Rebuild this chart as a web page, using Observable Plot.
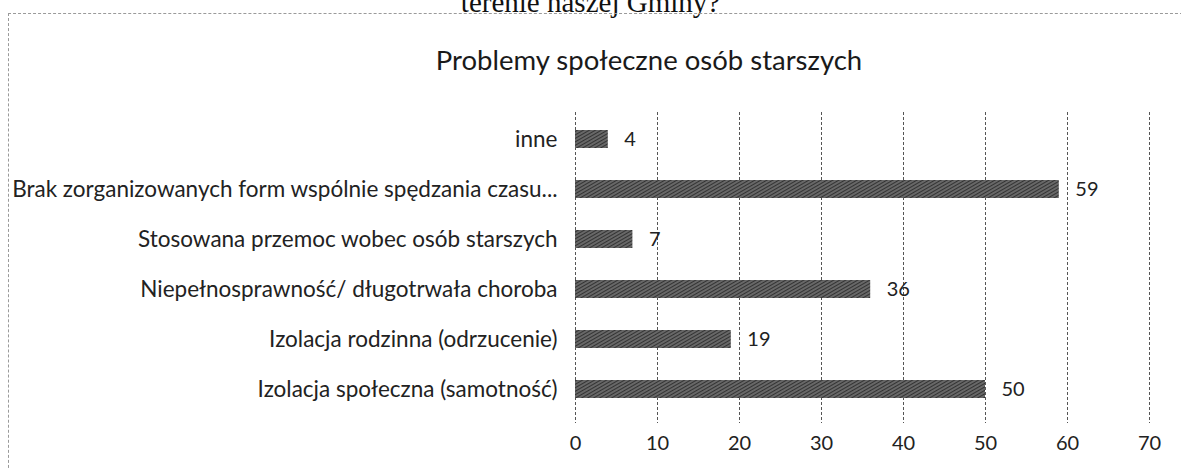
<!DOCTYPE html>
<html>
<head>
<meta charset="utf-8">
<script src="https://cdn.jsdelivr.net/npm/d3@7"></script>
<script src="https://cdn.jsdelivr.net/npm/@observablehq/plot@0.6"></script>
<style>
  html, body { margin: 0; padding: 0; background: #fff; width: 1181px; height: 468px; overflow: hidden; }
  #wrap { position: relative; width: 1181px; height: 468px; }
  #cut { position: absolute; left: 0; width: 1181px; top: -14px; text-align: center; font-family: "Liberation Serif", serif; font-size: 29px; color: #111; }
  #frame { position: absolute; left: 8px; top: 13px; width: 1180px; height: 470px; border-left: 1px dashed #9a9a9a; border-top: 1px dashed #9a9a9a; box-sizing: border-box; }
  #title { position: absolute; left: 649px; transform: translateX(-50%); white-space: nowrap; top: 43px; font-family: Lato, "Open Sans", sans-serif; font-size: 27.5px; color: #1a1a1a; }
  #chart { position: absolute; left: 0; top: 90px; }
</style>
</head>
<body>
<div id="wrap">
  <div id="cut">terenie naszej Gminy?</div>
  <div id="frame"></div>
  <div id="title">Problemy społeczne osób starszych</div>
  <div id="chart"></div>
</div>
<script>
const categories = [
  "inne",
  "Brak zorganizowanych form wspólnie spędzania czasu...",
  "Stosowana przemoc wobec osób starszych",
  "Niepełnosprawność/ długotrwała choroba",
  "Izolacja rodzinna (odrzucenie)",
  "Izolacja społeczna (samotność)"
];
const values = [4, 59, 7, 36, 19, 50];
const xTicks = [0, 10, 20, 30, 40, 50, 60, 70];

const data = categories.map((c, i) => ({category: c, value: values[i]}));

const chart = Plot.plot({
  width: 1181,
  height: 378,
  marginTop: 22,
  marginBottom: 53,
  marginLeft: 575,
  marginRight: 32,
  style: { fontFamily: "Lato, 'Open Sans', sans-serif", fontSize: "20px", color: "#222", background: "transparent" },
  x: { domain: [0, 70], ticks: xTicks, label: null },
  y: { domain: categories, label: null, padding: 0 },
  marks: [
    Plot.ruleX(xTicks, { stroke: "#555", strokeWidth: 1, strokeDasharray: "3,2", insetBottom: -8 }),
    Plot.barX(data, { y: "category", x: "value", fill: "url(#hatch)", insetTop: 16, insetBottom: 16 }),
    Plot.text(data, { y: "category", x: "value", text: d => String(d.value), textAnchor: "start", dx: 16, fontSize: 20, fill: "#222" }),
    Plot.axisX({ ticks: xTicks, tickSize: 0, tickPadding: 20, fontSize: 20, label: null }),
    Plot.axisY({ tickSize: 0, tickPadding: 18, fontSize: 22.5, label: null })
  ]
});

const defs = d3.select(chart).insert("defs", ":first-child");
const pat = defs.append("pattern")
  .attr("id", "hatch")
  .attr("patternUnits", "userSpaceOnUse")
  .attr("width", 3).attr("height", 3)
  .attr("patternTransform", "rotate(-30)");
pat.append("rect").attr("width", 3).attr("height", 3).attr("fill", "#333");
pat.append("line").attr("x1", 0).attr("y1", 1).attr("x2", 3).attr("y2", 1).attr("stroke", "#a8a8a8").attr("stroke-width", 0.9);

document.getElementById("chart").appendChild(chart);
</script>
</body>
</html>
